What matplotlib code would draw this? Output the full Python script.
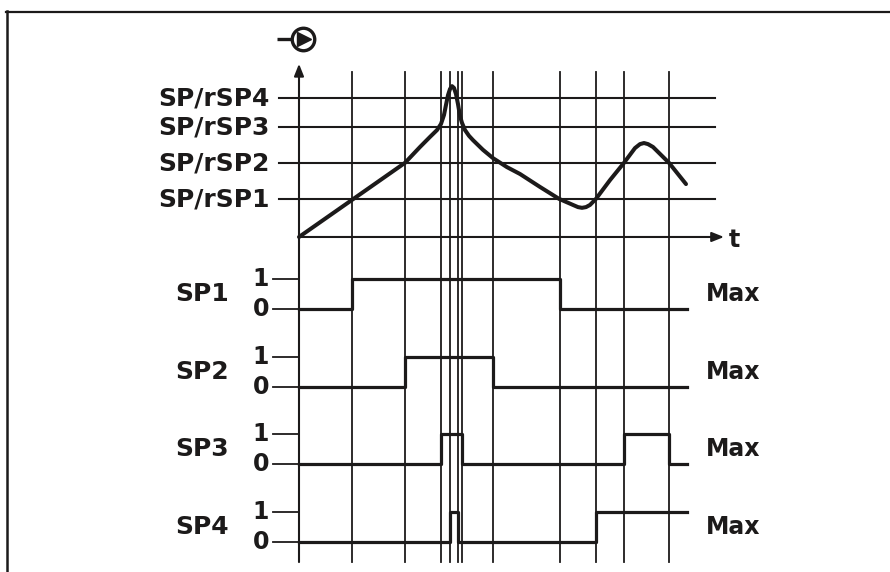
import matplotlib
matplotlib.use("Agg")
import matplotlib.pyplot as plt
from matplotlib.lines import Line2D

# ---------------- data ----------------
# analogue input curve (time, value)
curve_t = [0.0, 5.3, 10.6, 12.1, 13.1, 13.8, 14.2, 14.5, 14.7, 14.9, 15.1,
           15.3, 15.5, 15.7, 15.9, 16.1, 16.3, 16.6, 17.0, 17.4, 18.4, 19.4,
           20.8, 22.1, 24.1, 26.0, 27.4, 27.9, 28.3, 28.7, 29.1, 29.7, 31.1,
           32.5, 33.6, 34.1, 34.5, 34.9, 35.4, 37.0, 38.7]
curve_v = [0.00, 1.03, 2.06, 2.50, 2.78, 2.97, 3.14, 3.39, 3.67, 3.94, 4.11,
           4.19, 4.14, 3.97, 3.69, 3.36, 3.17, 2.97, 2.81, 2.69, 2.42, 2.19,
           1.94, 1.75, 1.39, 1.06, 0.89, 0.83, 0.81, 0.83, 0.89, 1.06, 1.58,
           2.06, 2.47, 2.58, 2.61, 2.58, 2.50, 2.06, 1.47]

# set-point thresholds
sp_levels = [1.05, 2.05, 3.05, 3.86]
sp_labels = ["SP/rSP1", "SP/rSP2", "SP/rSP3", "SP/rSP4"]

# switching instants (vertical grid lines)
switch_t = [5.3, 10.6, 14.2, 15.1, 15.9, 16.3, 19.4, 26.1, 29.7, 32.5, 37.0]

# digital outputs (step, 'post')
out_names = ["SP1", "SP2", "SP3", "SP4"]
out_t = [
    [0, 5.3, 26.1, 38.8],
    [0, 10.6, 19.4, 38.8],
    [0, 14.2, 16.3, 32.5, 37.0, 38.8],
    [0, 15.1, 15.9, 29.7, 38.8],
]
out_s = [
    [0, 1, 0, 0],
    [0, 1, 0, 0],
    [0, 1, 0, 1, 0, 0],
    [0, 1, 0, 1, 1],
]
out_mode = ["Max", "Max", "Max", "Max"]

# ---------------- layout ----------------
W, H, DPI = 890, 572, 100
K = "#1c1a1a"
fig = plt.figure(figsize=(W / DPI, H / DPI), dpi=DPI)
ax = fig.add_axes([0, 0, 1, 1])
ax.set_xlim(-29.9, 59.1)
ax.set_ylim(-9.306, 6.583)
ax.axis("off")

bold = dict(fontweight="bold", color=K, family="DejaVu Sans")

row_base0 = -2.0      # value coordinate of first output row's "0" level
row_step = 2.157
row_h = 0.833
grid_top, grid_bot = 4.58, -9.03

# frame (top and left edges)
fig.add_artist(Line2D([6 / W, 1], [1 - 11.5 / H] * 2, transform=fig.transFigure, color=K, lw=1.6))
fig.add_artist(Line2D([7 / W] * 2, [1 - 11 / H, 0], transform=fig.transFigure, color=K, lw=1.8))

# vertical switching lines
for x in switch_t:
    ax.plot([x, x], [grid_bot, grid_top], color=K, lw=1.3, zorder=1)

# threshold lines and labels
for lv, lab in zip(sp_levels, sp_labels):
    ax.plot([-2.0, 41.6], [lv, lv], color=K, lw=1.5, zorder=1)
    ax.text(-2.9, lv, lab, ha="right", va="center", fontsize=18, **bold)

# y axis with arrow
ax.annotate("", xy=(0, 4.81), xytext=(0, grid_bot),
            arrowprops=dict(arrowstyle="-|>,head_length=0.45,head_width=0.18",
                            lw=1.5, color=K, shrinkA=0, shrinkB=0, mutation_scale=16))
# t axis with arrow
ax.annotate("", xy=(42.5, 0), xytext=(0, 0),
            arrowprops=dict(arrowstyle="-|>,head_length=0.45,head_width=0.18",
                            lw=1.5, color=K, shrinkA=0, shrinkB=0, mutation_scale=16))
ax.text(43.5, -0.08, "t", ha="center", va="center", fontsize=17, **bold)

# input icon
ax.plot([-2.2, -0.8], [5.49, 5.49], color=K, lw=2.4, solid_capstyle="butt", zorder=3)
ax.plot([0.35], [5.49], marker="o", ms=16.2, mfc="none", mec=K, mew=2.4, zorder=3)
ax.plot([0.45], [5.49], marker=">", ms=10, color=K, zorder=4)

# analogue curve
ax.plot(curve_t, curve_v, color=K, lw=2.9, solid_joinstyle="round",
        solid_capstyle="round", zorder=5)

# digital outputs
for i, (name, ts, ss, mode) in enumerate(zip(out_names, out_t, out_s, out_mode)):
    base = row_base0 - i * row_step
    ys = [base + s * row_h for s in ss]
    ax.step(ts, ys, where="post", color=K, lw=2.3, zorder=5)
    for lvl, txt in ((0, "0"), (1, "1")):
        yy = base + lvl * row_h
        ax.plot([-2.6, 0], [yy, yy], color=K, lw=1.3, zorder=2)
        ax.text(-3.0, yy, txt, ha="right", va="center", fontsize=17, **bold)
    ax.text(-9.7, base + row_h * 0.5, name, ha="center", va="center", fontsize=18, **bold)
    ax.text(40.7, base + row_h * 0.5, mode, ha="left", va="center", fontsize=17, **bold)

fig.savefig("out.png", dpi=DPI, facecolor="white")
